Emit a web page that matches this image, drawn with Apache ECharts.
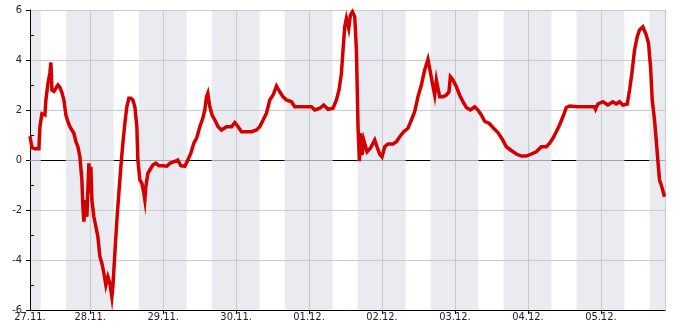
<!DOCTYPE html>
<html><head><meta charset="utf-8">
<script src="https://cdn.jsdelivr.net/npm/echarts@6/dist/echarts.min.js"></script>
<style>html,body{margin:0;padding:0;background:#fff}#c{width:685px;height:330px}</style>
</head><body><div id="c"></div>
<script>
// Reference date: 27.11. 00:00 (UTC). All times below are hours after it.
const baseDate = Date.UTC(2023, 10, 27);
const axisStartHour = 4.2;
const axisEndHour = 213.1;
const startLabelHours = [4.2];
const nightStartHours = [4.2, 16, 40, 64, 88, 112, 136, 160, 184, 208];
const nightEndHours = [7.75, 31.75, 55.75, 79.75, 103.75, 127.75, 151.75, 175.75, 199.75, 213.1];

const hours = [4.18,4.83,5.82,7.13,7.46,8.12,9.11,9.43,10.09,10.75,11.08,11.41,12.07,12.72,13.38,14.04,14.70,15.35,16.01,16.67,
17.33,17.98,18.64,19.30,19.96,20.61,21.27,21.60,21.93,22.42,22.91,23.57,23.90,24.23,24.56,25.22,25.87,26.53,27.19,27.85,
28.50,29.16,29.82,30.48,31.13,31.46,32.12,32.78,33.43,34.09,34.75,35.41,36.06,36.72,37.38,38.04,38.70,39.35,39.68,40.34,
41.00,41.65,41.98,42.31,42.97,43.63,44.61,45.60,46.59,47.90,49.22,50.20,51.52,52.83,53.82,55.13,56.12,57.11,58.09,59.08,
60.07,61.05,61.71,62.27,62.70,63.35,64.11,65.00,66.08,67.20,68.85,70.49,71.57,72.66,73.77,75.42,77.06,78.71,79.79,80.88,
81.99,83.08,84.17,85.28,86.37,87.45,88.57,90.22,91.30,92.94,95.15,96.79,97.87,99.52,100.83,102.25,103.89,105.01,105.86,106.65,
107.18,107.74,108.29,109.05,109.61,110.27,111.03,111.58,112.11,112.57,112.90,113.42,113.98,114.31,115.07,116.19,117.60,118.36,119.24,120.00,
120.89,121.97,123.62,124.73,125.82,127.14,128.55,129.66,130.75,131.83,132.95,134.04,135.12,135.68,136.57,137.33,137.88,138.41,138.97,140.06,
141.17,142.03,142.49,143.35,144.46,145.54,146.63,147.75,149.06,150.48,151.56,152.68,153.77,155.18,156.50,158.13,159.58,160.90,162.54,164.19,
165.83,167.48,169.12,170.76,172.41,174.05,175.14,176.22,177.34,178.42,179.51,180.63,181.71,184.44,187.73,189.93,190.26,191.02,192.66,194.30,
195.95,197.06,198.15,199.23,200.68,201.44,202.20,203.08,203.97,204.72,205.81,206.93,207.68,208.34,208.90,209.65,210.21,210.74,211.30,212.05,
212.94];
const values = [0.95,0.5,0.45,0.45,1.33,1.85,1.8,2.4,3.05,3.5,3.9,2.8,2.75,2.87,3.0,2.9,2.7,2.4,1.8,1.53,
1.33,1.2,1.07,0.73,0.53,0.13,-0.8,-1.87,-2.47,-1.6,-2.27,-0.13,-1.33,-0.27,-1.6,-2.27,-2.67,-3.07,-3.87,-4.13,
-4.53,-5.0,-4.67,-4.93,-5.47,-5.07,-3.73,-2.4,-1.33,-0.27,0.67,1.47,2.13,2.47,2.47,2.4,2.13,1.33,0.0,-0.8,
-0.93,-1.33,-1.6,-1.07,-0.53,-0.4,-0.2,-0.13,-0.23,-0.23,-0.25,-0.13,-0.07,0.0,-0.23,-0.25,0.0,0.27,0.67,0.9,
1.33,1.67,2.0,2.53,2.67,2.13,1.8,1.6,1.33,1.2,1.33,1.33,1.5,1.33,1.13,1.13,1.13,1.2,1.33,1.6,
1.87,2.4,2.6,2.96,2.73,2.53,2.4,2.33,2.13,2.13,2.13,2.13,2.0,2.07,2.2,2.03,2.07,2.4,2.8,3.47,
4.4,5.33,5.67,5.27,5.8,5.93,5.73,4.4,1.33,-0.05,1.07,0.2,0.8,0.73,0.33,0.47,0.8,0.53,0.24,0.13,
0.53,0.64,0.64,0.73,0.93,1.13,1.27,1.6,1.93,2.53,3.0,3.6,4.03,3.67,3.07,2.6,3.2,2.87,2.53,2.53,
2.6,2.73,3.33,3.2,2.93,2.6,2.33,2.1,2.0,2.13,2.0,1.8,1.55,1.47,1.3,1.1,0.83,0.53,0.38,0.24,
0.16,0.16,0.24,0.33,0.53,0.53,0.67,0.87,1.13,1.4,1.73,2.1,2.16,2.13,2.13,2.13,2.03,2.24,2.33,2.2,
2.33,2.24,2.33,2.2,2.24,2.8,3.47,4.4,4.93,5.2,5.33,5.0,4.67,3.73,2.4,1.6,0.8,0.0,-0.8,-1.07,
-1.47];

const HOUR = 3600000, DAY = 86400000;
const ts = h => baseDate + Math.round(h * HOUR);
const FONT = "'DejaVu Sans Condensed', 'DejaVu Sans', sans-serif";
const pad = n => (n < 10 ? '0' : '') + n;
const dayText = v => { const d = new Date(v); return pad(d.getUTCDate()) + '.' + pad(d.getUTCMonth() + 1) + '.'; };
const midnightLabel = v => (((v % DAY) + DAY) % DAY === 0 ? dayText(v) : '');

const seriesData = hours.map((h, i) => [ts(h), values[i]]);
const bands = nightStartHours.map((s, i) => [{ xAxis: ts(s) }, { xAxis: ts(nightEndHours[i]) }]);
// zero line: black in daylight, greyed inside the night bands
const zeroSegments = [];
nightStartHours.forEach((s, i) => {
  zeroSegments.push([{ coord: [ts(s), 0], lineStyle: { color: '#a3a4a9' } }, { coord: [ts(nightEndHours[i]), 0] }]);
  if (i + 1 < nightStartHours.length) {
    zeroSegments.push([{ coord: [ts(nightEndHours[i]), 0], lineStyle: { color: '#000000' } }, { coord: [ts(nightStartHours[i + 1]), 0] }]);
  }
});
const labelStyle = { fontFamily: FONT, fontSize: 11, color: '#222' };

const chart = echarts.init(document.getElementById('c'), null, { renderer: 'canvas' });
chart.setOption({
  animation: false,
  useUTC: true,
  backgroundColor: '#ffffff',
  grid: { left: 30, right: 20, top: 10, bottom: 20, containLabel: false },
  xAxis: [{
    type: 'time', z: 2,
    min: ts(axisStartHour),
    max: ts(axisEndHour),
    minInterval: DAY, maxInterval: DAY,
    axisLine: { onZero: false, lineStyle: { color: '#000', width: 1 } },
    axisTick: { show: true, inside: false, length: 4, lineStyle: { color: '#000' } },
    axisLabel: Object.assign({ formatter: midnightLabel, margin: 2, hideOverlap: false }, labelStyle),
    splitLine: { show: true, lineStyle: { color: '#c9c9cd', width: 1 } }
  }, {
    type: 'value', z: 2,
    min: axisStartHour, max: axisEndHour, position: 'bottom',
    axisLine: { show: false, onZero: false },
    axisTick: { show: false },
    axisLabel: Object.assign({ customValues: startLabelHours, formatter: h => dayText(ts(h)), margin: 2 }, labelStyle),
    splitLine: { show: false }
  }],
  yAxis: [{
    type: 'value', z: 2, min: -6, max: 6, interval: 2,
    axisLine: { show: true, lineStyle: { color: '#000', width: 1 } },
    axisTick: { show: true, length: 4, lineStyle: { color: '#000' } },
    axisLabel: Object.assign({ margin: 8 }, labelStyle),
    splitLine: { show: true, lineStyle: { color: '#cbcbcb', width: 1 } }
  }, {
    type: 'value', z: 2, min: -6, max: 6, interval: 2, position: 'left',
    axisLine: { show: false },
    axisTick: { show: false, inside: true },
    minorTick: { show: true, splitNumber: 2, length: 4, lineStyle: { color: '#000' } },
    axisLabel: { show: false },
    splitLine: { show: false }
  }],
  series: [{
    name: 'night', type: 'line', data: [], z: 1, silent: true,
    markArea: { z: 1, silent: true, itemStyle: { color: '#eaebf0' }, data: bands }
  }, {
    name: 'zero', type: 'line', data: [], z: 2.5, silent: true,
    markLine: {
      z: 2.5, silent: true, symbol: 'none', label: { show: false },
      lineStyle: { color: '#000', width: 1, type: 'solid' },
      data: zeroSegments
    }
  }, {
    name: 'value', type: 'line', data: seriesData, z: 3,
    showSymbol: false, symbol: 'none',
    lineStyle: { color: '#d40000', width: 3.5, join: 'miter' },
    itemStyle: { color: '#d40000' }
  }]
});
</script></body></html>
